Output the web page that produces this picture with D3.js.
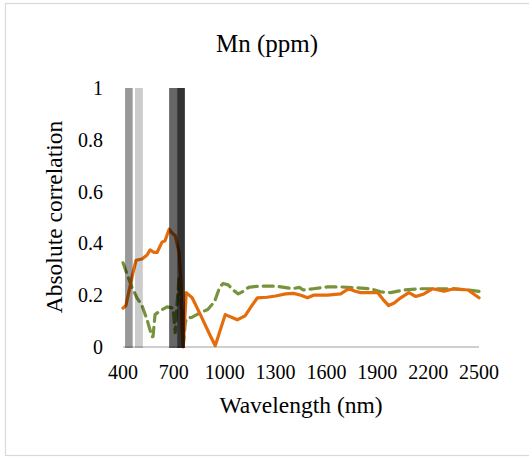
<!DOCTYPE html>
<html>
<head>
<script src="https://d3js.org/d3.v7.min.js"></script>
<style>
  html, body { margin: 0; padding: 0; background: #fff; }
  svg { display: block; }
</style>
</head>
<body>
<div id="chart"></div>
<script>
// wavelength (nm) / absolute correlation, orange solid series
const orangeWl  = [400, 417, 453, 477, 512, 542, 560, 583, 601, 630, 648, 672, 690, 708, 731, 743, 749, 755,
                   773, 808, 860, 910, 944, 1003, 1040, 1074, 1120, 1160, 1193, 1250, 1300, 1360, 1406, 1450, 1488,
                   1524, 1607, 1684, 1731, 1770, 1802, 1902, 1932, 1967, 2000, 2038, 2086, 2127, 2175, 2228, 2293,
                   2352, 2435, 2500];
const orangeVal = [0.15, 0.16, 0.27, 0.335, 0.34, 0.355, 0.375, 0.365, 0.365, 0.405, 0.41, 0.455, 0.44, 0.43, 0.365, 0.245, 0.065, 0.0,
                   0.21, 0.19, 0.12, 0.05, 0.005, 0.125, 0.115, 0.105, 0.12, 0.16, 0.19, 0.192, 0.197, 0.205, 0.207, 0.2, 0.19,
                   0.2, 0.2, 0.205, 0.225, 0.215, 0.21, 0.21, 0.185, 0.16, 0.17, 0.19, 0.21, 0.195, 0.205, 0.225, 0.215,
                   0.225, 0.22, 0.19];

// green dashed series
const greenWl  = [400, 430, 453, 482, 512, 542, 571, 577, 589, 619, 660, 696, 708, 719, 731, 749, 755, 767,
                  773, 808, 850, 900, 940, 970, 990, 1020, 1050, 1080, 1110, 1140, 1200, 1300, 1400, 1440, 1465,
                  1524, 1607, 1684, 1784, 1861, 1920, 1979, 2056, 2156, 2257, 2334, 2435, 2500];
const greenVal = [0.325, 0.27, 0.23, 0.19, 0.16, 0.105, 0.04, 0.04, 0.125, 0.14, 0.155, 0.15, 0.055, 0.17, 0.265, 0.115, 0.0, 0.09,
                  0.11, 0.115, 0.13, 0.145, 0.175, 0.23, 0.245, 0.24, 0.22, 0.205, 0.215, 0.23, 0.235, 0.235, 0.225, 0.23, 0.22,
                  0.225, 0.232, 0.232, 0.228, 0.225, 0.213, 0.21, 0.22, 0.225, 0.225, 0.225, 0.22, 0.215];

// shaded wavelength bands
const bandStart = [412, 471, 672, 719];
const bandEnd   = [457, 517, 719, 765];
const bandShade = [0.4, 0.2, 0.6, 0.8];

const xTicks = [400, 700, 1000, 1300, 1600, 1900, 2200, 2500];
const yTicks = [0, 0.2, 0.4, 0.6, 0.8, 1];

const FONT = "'Liberation Serif', Tinos, 'Times New Roman', Times, 'Nimbus Roman', 'Noto Serif', 'DejaVu Serif', FreeSerif, serif";

const W = 529, H = 457;
const svg = d3.select("#chart").append("svg").attr("width", W).attr("height", H)
  .attr("font-family", FONT);

// outer frame (right edge runs off the page)
svg.append("rect").attr("x", 5.5).attr("y", 3.5).attr("width", W + 5).attr("height", 452)
  .attr("fill", "#fff").attr("stroke", "#d9d9d9").attr("stroke-width", 1.2);

const x = d3.scaleLinear().domain([400, 2500]).range([123, 479]);
const y = d3.scaleLinear().domain([0, 1]).range([347, 88]);

// title
svg.append("text").attr("x", 267).attr("y", 52).attr("text-anchor", "middle")
  .attr("font-size", 25).text("Mn (ppm)");

// x axis line
svg.append("line").attr("x1", x(400)).attr("x2", x(2500)).attr("y1", y(0)).attr("y2", y(0))
  .attr("stroke", "#bfbfbf").attr("stroke-width", 1.5);

// tick labels
svg.append("g").selectAll("text").data(xTicks).join("text")
  .attr("x", d => x(d)).attr("y", 379).attr("text-anchor", "middle")
  .attr("font-size", 20).text(d => d);

svg.append("g").selectAll("text").data(yTicks).join("text")
  .attr("x", 103).attr("y", d => y(d)).attr("dy", "0.35em").attr("text-anchor", "end")
  .attr("font-size", 20).text(d => d3.format("~g")(d));

// axis titles
svg.append("text").attr("x", 301).attr("y", 413).attr("text-anchor", "middle")
  .attr("font-size", 23.5).text("Wavelength (nm)");
svg.append("text").attr("transform", "translate(62,217) rotate(-90)").attr("text-anchor", "middle")
  .attr("font-size", 23.5).text("Absolute correlation");

// series
const line = d3.line().x(d => x(d[0])).y(d => y(d[1]));

svg.append("path").datum(greenWl.map((w, i) => [w, greenVal[i]]))
  .attr("d", line).attr("fill", "none").attr("stroke", "#77933c")
  .attr("stroke-width", 3.2).attr("stroke-dasharray", "10,6")
  .attr("stroke-linejoin", "round").attr("stroke-linecap", "round");

svg.append("path").datum(orangeWl.map((w, i) => [w, orangeVal[i]]))
  .attr("d", line).attr("fill", "none").attr("stroke", "#e46c0a")
  .attr("stroke-width", 3.2).attr("stroke-linejoin", "round").attr("stroke-linecap", "round");

// bands drawn on top, semi transparent
svg.append("g").selectAll("rect").data(bandStart).join("rect")
  .attr("x", d => x(d)).attr("width", (d, i) => x(bandEnd[i]) - x(d))
  .attr("y", y(1)).attr("height", y(0) - y(1) + 1)
  .attr("fill", "#000").attr("fill-opacity", (d, i) => bandShade[i]);
</script>
</body>
</html>
